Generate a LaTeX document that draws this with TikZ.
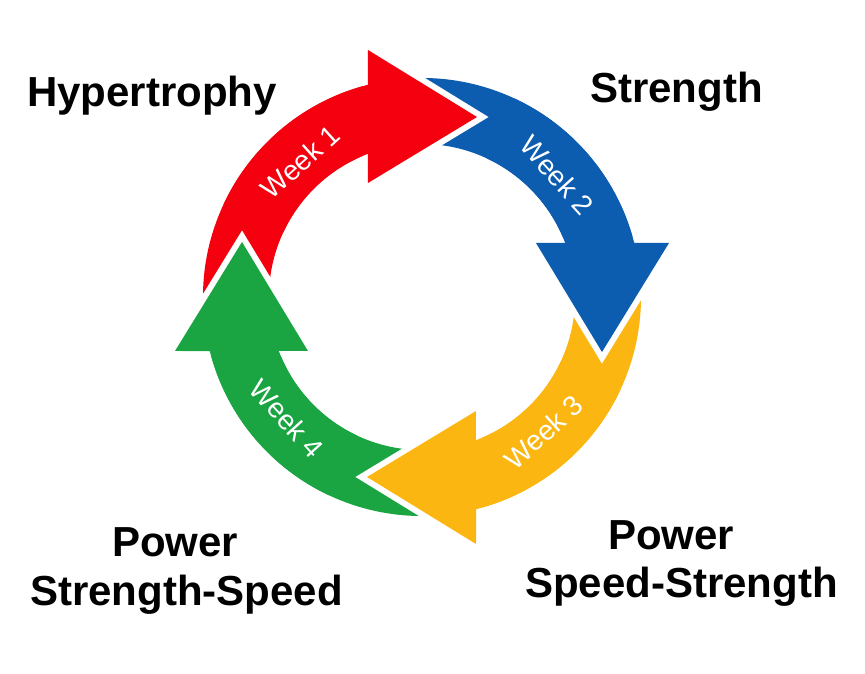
\documentclass[tikz,border=0pt]{standalone}
\usepackage{fontspec}
\setmainfont{Liberation Sans}
\definecolor{cRed}{RGB}{245,0,15}
\definecolor{cBlue}{RGB}{12,92,176}
\definecolor{cYellow}{RGB}{252,182,18}
\definecolor{cGreen}{RGB}{26,165,66}
\newcommand\ringarrow[1]{(#1:219) arc[start angle=#1, end angle=104.28, radius=219] -- (-54,247) -- (55,180) -- (-54,114) -- (-54,143.2) arc[start angle=110.66, end angle=#1, radius=153] -- cycle}
\newcommand\ringhead{(-54,247) -- (55,180) -- (-54,114) -- cycle}
\begin{document}
\begin{tikzpicture}[x=1pt,y=1pt,
  lbl/.style={font=\fontsize{42}{48}\selectfont\bfseries, inner sep=0pt, anchor=base west},
  wk/.style={font=\fontsize{28}{32}\selectfont, text=white, inner sep=0pt},
  gapline/.style={draw=white, line width=12pt, line join=miter}]
\useasboundingbox (-422,-377) rectangle (443,297);
% shafts and heads, tails tucked under the previous head
\foreach \k/\c in {0/cRed,1/cBlue,2/cYellow,3/cGreen}{
  \begin{scope}[rotate=-90*\k]
    \fill[\c] \ringarrow{188};
  \end{scope}
}
% heads on top with white gap
\foreach \k/\c in {0/cRed,1/cBlue,2/cYellow,3/cGreen}{
  \begin{scope}[rotate=-90*\k]
    \draw[gapline] \ringhead;
    \fill[\c] \ringarrow{155};
  \end{scope}
}
\node[wk, rotate=42] (w1) at (132:182) {Week 1};
\node[wk, rotate=-48] (w2) at (42:182) {Week 2};
\node[wk, rotate=42] (w3) at (-48:182) {Week 3};
\node[wk, rotate=-48] (w4) at (222:182) {Week 4};
\node[lbl] (hyp) at (-395,190.3) {Hypertrophy};
\node[lbl] (str) at (168,194) {Strength};
\node[lbl] (p4) at (-310,-260) {Power};
\node[lbl] (ss4) at (-392,-308) {Strength-Speed};
\node[lbl] (p3) at (186,-253) {Power};
\node[lbl] (ss3) at (103,-301) {Speed-Strength};
\end{tikzpicture}
\end{document}
